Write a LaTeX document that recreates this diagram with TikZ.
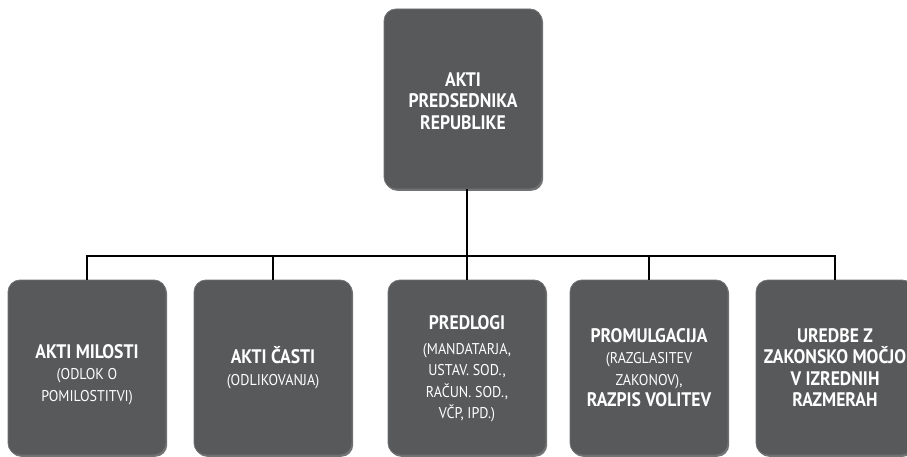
\documentclass[tikz,border=0pt]{standalone}
\usepackage{fontspec}
\setmainfont{PT Sans}[FakeStretch=0.9]
\usetikzlibrary{shadows}
\definecolor{boxgray}{HTML}{58595B}
\definecolor{rimgray}{HTML}{707173}
\newcommand\subtx{\fontsize{15.6}{21.5}\selectfont\mdseries}
\tikzset{
  orgbox/.style={rectangle, rounded corners=12pt, fill=boxgray, draw=rimgray,
    line width=0.8pt, minimum width=158pt, minimum height=175pt, inner sep=0pt,
    drop shadow={shadow xshift=1.2pt, shadow yshift=-1.8pt, opacity=0.55, fill=black}},
  topbox/.style={orgbox, minimum height=180pt},
  boxtext/.style={text=white, align=center, inner sep=0pt,
    font=\fontsize{19.6}{21.5}\selectfont\bfseries},
  link/.style={draw=black, line width=1.2pt}
}
\begin{document}
\begin{tikzpicture}[x=1pt, y=-1pt]
  \useasboundingbox (0,0) rectangle (907,457);
  \clip (0,0) rectangle (907,457);

  % head of the chart
  \node[topbox] (top) at (463,99) {};
  \node[boxtext] (ttop) at ([yshift=-2pt]top.center) {AKTI\\PREDSEDNIKA\\REPUBLIKE};

  % the five kinds of acts
  \node[orgbox] (b1) at (87,367.5) {};
  \node[orgbox] (b2) at (273,367.5) {};
  \node[orgbox] (b3) at (467,367.5) {};
  \node[orgbox] (b4) at (649,367.5) {};
  \node[orgbox] (b5) at (835,367.5) {};

  \node[boxtext] (t1) at ([yshift=-7pt]b1.center) {AKTI MILOSTI\\{\subtx (ODLOK O}\\{\subtx POMILOSTITVI)}};
  \node[boxtext] (t2) at (b2.center) {AKTI ČASTI\\{\subtx (ODLIKOVANJA)}};
  \node[boxtext] (t3) at ([yshift=-1pt]b3.center) {PREDLOGI\\[3.5pt]{\subtx (MANDATARJA,}\\{\subtx USTAV. SOD.,}\\{\subtx RAČUN. SOD.,}\\{\subtx VČP, IPD.)}};
  \node[boxtext] (t4) at (b4.center) {PROMULGACIJA\\{\subtx (RAZGLASITEV}\\{\subtx ZAKONOV),}\\RAZPIS VOLITEV};
  \node[boxtext] (t5) at (b5.center) {UREDBE Z\\ZAKONSKO MOČJO\\V IZREDNIH\\RAZMERAH};

  % connectors
  \coordinate (bus) at (467,256);
  \draw[link] (top.south -| b3.north) -- (b3.north);
  \draw[link] (b1.north) |- (bus) -| (b5.north);
  \draw[link] (b2.north) -- (b2.north |- bus);
  \draw[link] (b4.north) -- (b4.north |- bus);
\end{tikzpicture}
\end{document}
